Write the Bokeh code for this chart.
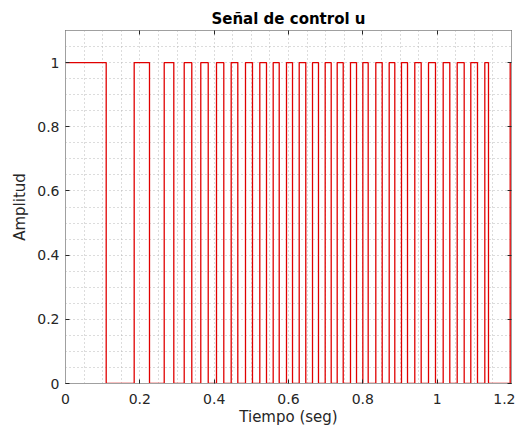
from bokeh.plotting import figure
from bokeh.models import FixedTicker, SingleIntervalTicker, LinearAxis, Range1d, Title
from bokeh.embed import file_html
from bokeh.resources import INLINE

# Switching times of the control signal u (seg) and the level after each switch
t_switch = [0.0, 0.1095, 0.1848, 0.2260, 0.2656, 0.2914, 0.3194, 0.3398, 0.3640, 0.3840,
            0.4063, 0.4259, 0.4458, 0.4636, 0.4843, 0.5031, 0.5228, 0.5408, 0.5588, 0.5750,
            0.5946, 0.6108, 0.6288, 0.6465, 0.6646, 0.6807, 0.6987, 0.7149, 0.7310, 0.7472,
            0.7668, 0.7830, 0.8000, 0.8144, 0.8349, 0.8521, 0.8709, 0.8860, 0.9040, 0.9202,
            0.9398, 0.9570, 0.9767, 0.9955, 1.0162, 1.0340, 1.0539, 1.0727, 1.0905, 1.1085,
            1.1282, 1.1381, 1.1965, 1.2000]
u_level = [1, 0, 1, 0, 1, 0, 1, 0, 1, 0,
           1, 0, 1, 0, 1, 0, 1, 0, 1, 0,
           1, 0, 1, 0, 1, 0, 1, 0, 1, 0,
           1, 0, 1, 0, 1, 0, 1, 0, 1, 0,
           1, 0, 1, 0, 1, 0, 1, 0, 1, 0,
           1, 0, 1, 1]

x_ticks = [0, 0.2, 0.4, 0.6, 0.8, 1.0, 1.2]
x_tick_labels = ["0", "0.2", "0.4", "0.6", "0.8", "1", "1.2"]
y_ticks = [0, 0.2, 0.4, 0.6, 0.8, 1.0]
y_tick_labels = ["0", "0.2", "0.4", "0.6", "0.8", "1"]

FONT = "DejaVu Sans"
TXT = "#262626"
FRAME = "#a0a0a0"

p = figure(frame_width=446, frame_height=353,
           x_range=Range1d(0, 1.2), y_range=Range1d(0, 1.1),
           output_backend="svg", toolbar_location=None,
           min_border_left=65, min_border_top=30, min_border_right=4, min_border_bottom=44,
           x_axis_label="Tiempo (seg)", y_axis_label="Amplitud")
p.title = Title(text="Señal de control u", align="center", text_font=FONT,
                text_font_size="15px", text_font_style="bold", text_color="black",
                standoff=6, offset=0)

p.outline_line_color = FRAME
p.outline_line_width = 1
p.background_fill_color = "white"
p.border_fill_color = "white"

for ax, ticks, labels in ((p.xaxis[0], x_ticks, x_tick_labels), (p.yaxis[0], y_ticks, y_tick_labels)):
    ax.ticker = FixedTicker(ticks=ticks)
    ax.major_label_overrides = {v: s for v, s in zip(ticks, labels)}
    ax.major_label_text_font = FONT
    ax.major_label_text_font_size = "14px"
    ax.major_label_text_color = TXT
    ax.axis_label_text_font = FONT
    ax.axis_label_text_font_size = "15px"
    ax.axis_label_text_font_style = "normal"
    ax.axis_label_text_color = TXT
    ax.axis_line_color = FRAME
    ax.major_tick_line_color = TXT
    ax.major_tick_in = 4
    ax.major_tick_out = 0
    ax.minor_tick_line_color = None
    ax.major_label_standoff = 6
p.xaxis[0].major_label_standoff = 10
p.yaxis[0].axis_label_standoff = 5
p.xaxis[0].axis_label_standoff = 1

# mirrored axes (box with inward ticks, no labels)
top = LinearAxis(ticker=FixedTicker(ticks=x_ticks), major_label_text_color=None,
                 axis_line_color=FRAME, major_tick_line_color=TXT, major_tick_in=4,
                 major_tick_out=0, minor_tick_line_color=None, major_label_standoff=0)
right = LinearAxis(ticker=FixedTicker(ticks=y_ticks), major_label_text_color=None,
                   axis_line_color=FRAME, major_tick_line_color=TXT, major_tick_in=4,
                   major_tick_out=0, minor_tick_line_color=None, major_label_standoff=0)
p.add_layout(top, "above")
p.add_layout(right, "right")

# dotted grid every 0.05
p.xgrid.ticker = SingleIntervalTicker(interval=0.05)
p.ygrid.ticker = SingleIntervalTicker(interval=0.05)
for g in (p.xgrid, p.ygrid):
    g.grid_line_color = "#b8b8b8"
    g.grid_line_dash = "1 3"
    g.grid_line_width = 1

p.step(x=t_switch, y=u_level, mode="after", line_color="#e00000", line_width=1.3)

open("out.html", "w").write(file_html(p, INLINE))
